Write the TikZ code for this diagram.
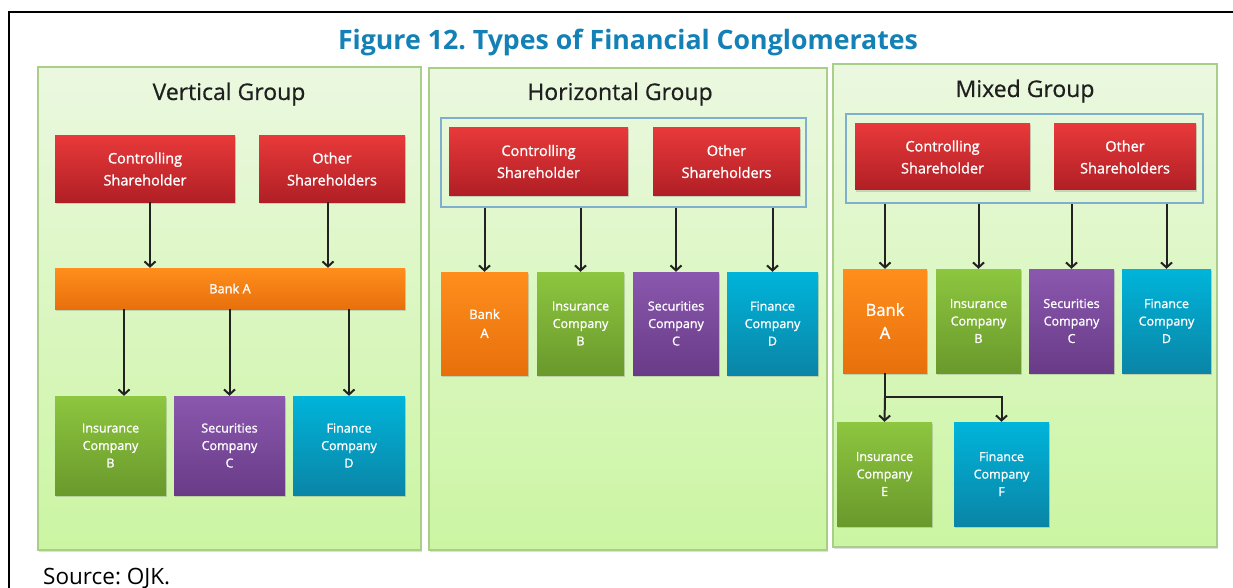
\documentclass[tikz,border=0pt]{standalone}
\usepackage{fontspec}
\setmainfont{Open Sans}
\newfontfamily\heavier[FakeBold=1.2]{Open Sans}
\newfontfamily\medium[FakeBold=0.6]{Open Sans}
\usetikzlibrary{arrows.meta,shadows}
\frenchspacing

% palette
\definecolor{titleblue}{HTML}{1380B6}
\definecolor{panelTop}{HTML}{EBF8E0}
\definecolor{panelBot}{HTML}{CBF5A2}
\definecolor{panelEdge}{HTML}{A9CE88}
\definecolor{groupEdge}{HTML}{7FAFCF}
\definecolor{redTop}{HTML}{E8393A}
\definecolor{redBot}{HTML}{B01F25}
\definecolor{orTop}{HTML}{FF8E1C}
\definecolor{orBot}{HTML}{E8700C}
\definecolor{grTop}{HTML}{8DC63F}
\definecolor{grBot}{HTML}{6A992C}
\definecolor{puTop}{HTML}{8A58AE}
\definecolor{puBot}{HTML}{693B87}
\definecolor{cyTop}{HTML}{00B4DA}
\definecolor{cyBot}{HTML}{0A85A6}
\definecolor{arrowgray}{HTML}{222222}

\tikzset{
  panel/.style={draw=panelEdge, line width=1.3pt, top color=panelTop, bottom color=panelBot,
    drop shadow={shadow xshift=1pt, shadow yshift=-1.5pt, opacity=0.25}},
  grouping/.style={draw=groupEdge, line width=1.3pt},
  unit/.style={inner sep=0pt, text=white, align=center,
    drop shadow={shadow xshift=1pt, shadow yshift=-1.5pt, opacity=0.3}},
  redbox/.style={unit, top color=redTop, bottom color=redBot, font=\heavier\fontsize{14.5}{22}\selectfont},
  orbox/.style={unit, top color=orTop, bottom color=orBot},
  grbox/.style={unit, top color=grTop, bottom color=grBot, font=\heavier\fontsize{12.5}{17.5}\selectfont},
  pubox/.style={unit, top color=puTop, bottom color=puBot, font=\heavier\fontsize{12.5}{17.5}\selectfont},
  cybox/.style={unit, top color=cyTop, bottom color=cyBot, font=\heavier\fontsize{12.5}{17.5}\selectfont},
  paneltitle/.style={font=\medium\fontsize{23}{27}\selectfont, text=black!88, inner sep=0pt, anchor=base},
  link/.style={draw=arrowgray, line width=2pt,
    -{Straight Barb[length=5pt, width=11pt]}},
  plain/.style={draw=arrowgray, line width=2pt}
}

\begin{document}
\begin{tikzpicture}[x=1pt, y=-1pt]
  \useasboundingbox (0,0) rectangle (1233,588);
  \fill[white] (0,0) rectangle (1233,588);

  % outer frame (only its left and top sides fall in view)
  \draw[line width=1.6pt] (9,589) -- (9,12) -- (1234,12);

  % heading
  \node[font=\bfseries\fontsize{26.7}{32}\selectfont, text=titleblue, anchor=base, inner sep=0pt]
    (heading) at (628,50) {Figure 12. Types of Financial Conglomerates};

  % the three panels
  \node[panel, minimum width=383pt, minimum height=483pt, inner sep=0pt] (vpanel) at (229.5,308.5) {};
  \node[panel, minimum width=398pt, minimum height=482pt, inner sep=0pt] (hpanel) at (628,309) {};
  \node[panel, minimum width=384pt, minimum height=483pt, inner sep=0pt] (mpanel) at (1025,305.5) {};

  \node[paneltitle] (vtitle) at (229,100) {Vertical Group};
  \node[paneltitle] (htitle) at (620,100) {Horizontal Group};
  \node[paneltitle] (mtitle) at (1025,97) {Mixed Group};

  % ---------- vertical group ----------
  \node[redbox, minimum width=180pt, minimum height=66pt] (vctrl) at (145,169) {Controlling\\Shareholder};
  \node[redbox, minimum width=146pt, minimum height=66pt] (voth) at (332,169) {Other\\Shareholders};
  \node[orbox, minimum width=350pt, minimum height=41pt, font=\heavier\fontsize{12.8}{15}\selectfont] (vbank) at (230,288.5) {Bank A};
  \node[grbox, minimum width=111pt, minimum height=99pt] (vins) at (110.5,445.5) {Insurance\\Company\\B};
  \node[pubox, minimum width=111pt, minimum height=99pt] (vsec) at (229.5,445.5) {Securities\\Company\\C};
  \node[cybox, minimum width=112pt, minimum height=99pt] (vfin) at (349,445.5) {Finance\\Company\\D};

  \draw[link] ([xshift=5pt]vctrl.south) -- ([xshift=5pt]vctrl.south |- vbank.north);
  \draw[link] ([xshift=-4pt]voth.south) -- ([xshift=-4pt]voth.south |- vbank.north);
  \draw[link] ([xshift=13.5pt]vins.north |- vbank.south) -- ([xshift=13.5pt]vins.north);
  \draw[link] (vsec.north |- vbank.south) -- (vsec.north);
  \draw[link] (vfin.north |- vbank.south) -- (vfin.north);

  % ---------- horizontal group ----------
  \node[grouping, minimum width=365pt, minimum height=89pt, inner sep=0pt] (hgrp) at (623.5,162.5) {};
  \node[redbox, minimum width=179pt, minimum height=67pt] (hctrl) at (538.5,161.5) {Controlling\\Shareholder};
  \node[redbox, minimum width=147pt, minimum height=67pt] (hoth) at (726.5,161.5) {Other\\Shareholders};
  \node[orbox, minimum width=87pt, minimum height=103pt, font=\heavier\fontsize{13}{19}\selectfont] (hbank) at (484.5,323.5) {Bank\\A};
  \node[grbox, minimum width=87pt, minimum height=103pt] (hins) at (580.5,323.5) {Insurance\\Company\\B};
  \node[pubox, minimum width=86pt, minimum height=103pt] (hsec) at (676,323.5) {Securities\\Company\\C};
  \node[cybox, minimum width=91pt, minimum height=103pt] (hfin) at (772.5,323.5) {Finance\\Company\\D};

  \foreach \n in {hbank,hins,hsec,hfin}
    \draw[link] (\n.north |- hgrp.south) -- (\n.north);

  % ---------- mixed group ----------
  \node[grouping, minimum width=357pt, minimum height=89pt, inner sep=0pt] (mgrp) at (1024.5,158.5) {};
  \node[redbox, minimum width=175pt, minimum height=66pt] (mctrl) at (942.5,157) {Controlling\\Shareholder};
  \node[redbox, minimum width=142pt, minimum height=66pt] (moth) at (1125,157) {Other\\Shareholders};
  \node[orbox, minimum width=84pt, minimum height=104pt, font=\heavier\fontsize{16.5}{23}\selectfont] (mbank) at (885,321) {Bank\\A};
  \node[grbox, minimum width=85pt, minimum height=104pt] (mins) at (978.5,321) {Insurance\\Company\\B};
  \node[pubox, minimum width=85pt, minimum height=104pt] (msec) at (1071.5,321) {Securities\\Company\\C};
  \node[cybox, minimum width=89pt, minimum height=104pt] (mfin) at (1166.5,321) {Finance\\Company\\D};
  \node[grbox, minimum width=95pt, minimum height=104pt] (minsE) at (884.5,474) {Insurance\\Company\\E};
  \node[cybox, minimum width=95pt, minimum height=104pt] (mfinF) at (1001.5,474) {Finance\\Company\\F};

  \foreach \n in {mbank,mins,msec,mfin}
    \draw[link] (\n.north |- mgrp.south) -- (\n.north);

  \coordinate (mfork) at (885,397);
  \draw[plain] (mbank.south) -- (mfork);
  \draw[link] (mfork) -- (minsE.north);
  \draw[link] (mfork) -| (mfinF.north);

  % source line
  \node[font=\fontsize{22.5}{26}\selectfont, anchor=base west, inner sep=0pt] (source) at (43,584) {Source: OJK.};
\end{tikzpicture}
\end{document}
